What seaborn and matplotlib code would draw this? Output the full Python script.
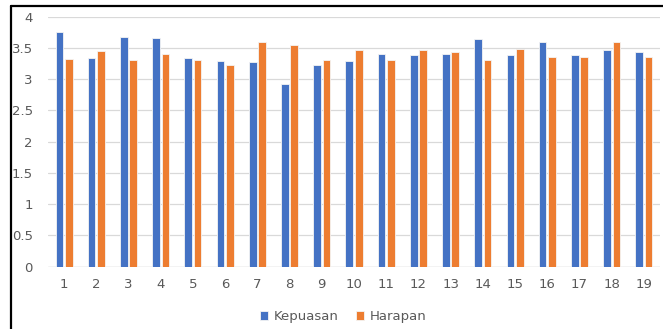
import matplotlib
matplotlib.use("Agg")
import matplotlib.pyplot as plt
from matplotlib.lines import Line2D
import seaborn as sns
import pandas as pd

categories = [str(i) for i in range(1, 20)]
kepuasan = [3.75, 3.34, 3.67, 3.66, 3.34, 3.29, 3.27, 2.93, 3.22, 3.29,
            3.41, 3.39, 3.40, 3.64, 3.39, 3.60, 3.39, 3.47, 3.44]
harapan = [3.33, 3.45, 3.31, 3.41, 3.31, 3.22, 3.60, 3.55, 3.30, 3.46,
           3.31, 3.47, 3.43, 3.30, 3.48, 3.35, 3.35, 3.60, 3.35]
series_names = ["Kepuasan", "Harapan"]
yticks = [0, 0.5, 1, 1.5, 2, 2.5, 3, 3.5, 4]
ytick_labels = ["0", "0.5", "1", "1.5", "2", "2.5", "3", "3.5", "4"]

df = pd.DataFrame({
    "item": categories * 2,
    "value": kepuasan + harapan,
    "series": [series_names[0]] * len(categories) + [series_names[1]] * len(categories),
})

sns.set_theme(style="white")
plt.rcParams["font.family"] = ["DejaVu Sans"]

fig = plt.figure(figsize=(6.63, 3.29), dpi=100)
ax = fig.add_axes([48 / 663, (329 - 266.7) / 329, (660 - 48) / 663, (266.7 - 16.7) / 329])

sns.barplot(data=df, x="item", y="value", hue="series", order=categories,
            hue_order=series_names, palette=["#4472C4", "#ED7D31"], saturation=1,
            width=0.58, gap=0.18, edgecolor="#f4f4f4", linewidth=0.6,
            ax=ax, legend=True)

ax.set_xlim(-0.5, len(categories) - 0.5)
ax.set_ylim(0, 4)
ax.set_yticks(yticks)
ax.set_yticklabels(ytick_labels)
ax.yaxis.grid(True, color="#D9D9D9", linewidth=0.9)
ax.set_axisbelow(True)
for s in ax.spines.values():
    s.set_visible(False)
ax.axhline(0, color="#D9D9D9", linewidth=1.0, zorder=0.5)
ax.set_xlabel("")
ax.set_ylabel("")
ax.tick_params(axis="both", length=0, labelsize=9.5, colors="#595959")
ax.tick_params(axis="y", pad=11)
ax.tick_params(axis="x", pad=8)

leg = ax.legend(loc="center", bbox_to_anchor=(343 / 663, 1 - 316.5 / 329),
                bbox_transform=fig.transFigure, ncol=2, frameon=False,
                fontsize=9.5, handlelength=0.65, handleheight=0.65,
                handletextpad=0.4, columnspacing=1.3)
for t in leg.get_texts():
    t.set_color("#595959")

# black frame lines (left and top) seen in reference
fig.add_artist(Line2D([11 / 663, 11 / 663], [0, 1 - 6 / 329], transform=fig.transFigure,
                      color="black", linewidth=1.6))
fig.add_artist(Line2D([11 / 663, 1], [1 - 6 / 329, 1 - 6 / 329], transform=fig.transFigure,
                      color="black", linewidth=1.6))

fig.savefig("out.png", dpi=100)
